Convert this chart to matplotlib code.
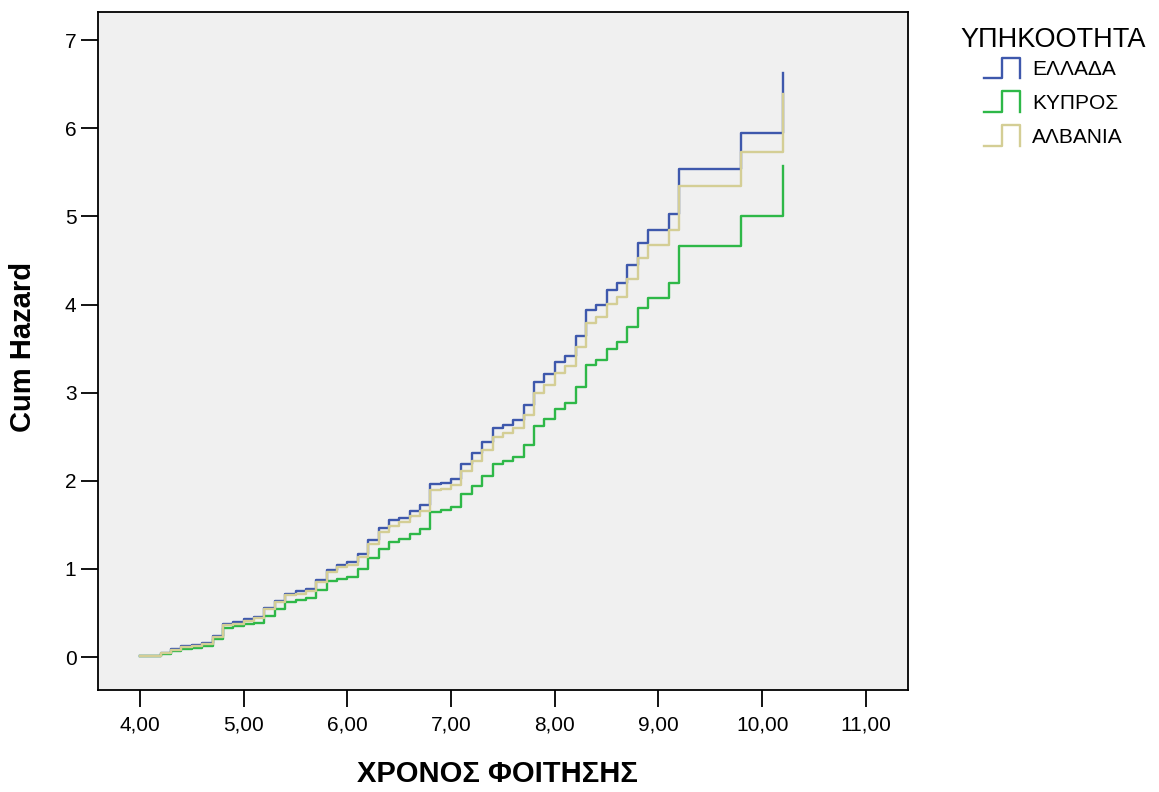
import matplotlib
matplotlib.use("Agg")
import matplotlib.pyplot as plt
from matplotlib.lines import Line2D
from matplotlib.legend_handler import HandlerBase

plt.rcParams['font.family'] = ['Liberation Sans', 'DejaVu Sans']

# ---- data ----
times = [4.0, 4.2, 4.3, 4.4, 4.5, 4.6, 4.7, 4.8, 4.9, 5.0,
         5.1, 5.2, 5.3, 5.4, 5.5, 5.6, 5.7, 5.8, 5.9, 6.0,
         6.1, 6.2, 6.3, 6.4, 6.5, 6.6, 6.7, 6.8, 6.9, 7.0,
         7.1, 7.2, 7.3, 7.4, 7.5, 7.6, 7.7, 7.8, 7.9, 8.0,
         8.1, 8.2, 8.3, 8.4, 8.5, 8.6, 8.7, 8.8, 8.9, 9.1,
         9.2, 9.8, 10.2]

hazard_greece = [0.01, 0.045, 0.09, 0.12, 0.135, 0.155, 0.235, 0.378, 0.40, 0.43,
                 0.46, 0.556, 0.635, 0.72, 0.745, 0.775, 0.873, 0.99, 1.05, 1.075,
                 1.17, 1.33, 1.46, 1.55, 1.58, 1.66, 1.72, 1.96, 1.98, 2.02,
                 2.19, 2.31, 2.44, 2.595, 2.63, 2.69, 2.855, 3.12, 3.21, 3.345,
                 3.42, 3.645, 3.94, 4.00, 4.16, 4.25, 4.45, 4.70, 4.85, 5.03,
                 5.54, 5.95, 6.63]

hazard_cyprus = [0.01, 0.04, 0.065, 0.094, 0.10, 0.12, 0.20, 0.33, 0.35, 0.37,
                 0.39, 0.47, 0.55, 0.62, 0.65, 0.67, 0.76, 0.86, 0.89, 0.91,
                 0.995, 1.12, 1.23, 1.30, 1.335, 1.395, 1.45, 1.65, 1.67, 1.705,
                 1.85, 1.94, 2.06, 2.19, 2.22, 2.27, 2.405, 2.62, 2.70, 2.82,
                 2.885, 3.07, 3.31, 3.37, 3.50, 3.57, 3.74, 3.96, 4.08, 4.24,
                 4.665, 5.01, 5.575]

hazard_albania = [0.01, 0.045, 0.085, 0.11, 0.125, 0.145, 0.225, 0.36, 0.38, 0.41,
                  0.44, 0.54, 0.62, 0.70, 0.72, 0.75, 0.85, 0.96, 1.025, 1.04,
                  1.13, 1.28, 1.415, 1.49, 1.53, 1.60, 1.66, 1.89, 1.91, 1.95,
                  2.11, 2.23, 2.345, 2.50, 2.54, 2.595, 2.75, 3.00, 3.09, 3.225,
                  3.30, 3.515, 3.79, 3.86, 4.005, 4.09, 4.285, 4.53, 4.68, 4.85,
                  5.34, 5.73, 6.395]

series_names = ['ΕΛΛΑΔΑ', 'ΚΥΠΡΟΣ', 'ΑΛΒΑΝΙΑ']
series_colors = ['#3E58AC', '#2EB848', '#D4CE95']

x_ticks = [4, 5, 6, 7, 8, 9, 10, 11]
x_tick_labels = ['4,00', '5,00', '6,00', '7,00', '8,00', '9,00', '10,00', '11,00']
y_ticks = [0, 1, 2, 3, 4, 5, 6, 7]
y_tick_labels = ['0', '1', '2', '3', '4', '5', '6', '7']

legend_title = 'ΥΠΗΚΟΟΤΗΤΑ'
x_label = 'ΧΡΟΝΟΣ ΦΟΙΤΗΣΗΣ'
y_label = 'Cum Hazard'

# ---- figure ----
W, H = 1159, 792
fig = plt.figure(figsize=(W / 100, H / 100), dpi=100)
left, right, bottom, top = 98, 908, 690, 12
ax = fig.add_axes([left / W, 1 - bottom / H, (right - left) / W, (bottom - top) / H])
ax.set_facecolor('#F0F0F0')

handles = []
for vals, name, col in zip([hazard_greece, hazard_cyprus, hazard_albania], series_names, series_colors):
    ln, = ax.step(times, vals, where='post', color=col, lw=1.7, label=name)
    handles.append(ln)

ax.set_xlim(3.595, 11.406)
ax.set_ylim(-0.374, 7.32)
ax.set_xticks(x_ticks)
ax.set_xticklabels(x_tick_labels)
ax.set_yticks(y_ticks)
ax.set_yticklabels(y_tick_labels)
ax.tick_params(axis='both', direction='out', length=12.5, width=1.3, labelsize=15,
               color='black', labelcolor='black')
ax.tick_params(axis='x', pad=6)
ax.tick_params(axis='y', pad=3)
for sp in ax.spines.values():
    sp.set_linewidth(1.3)
    sp.set_color('black')

ax.set_xlabel(x_label, fontsize=21, fontweight='bold')
ax.xaxis.set_label_coords(0.5 - 6 / 810, (690 - 774) / 678)
ax.xaxis.label.set_verticalalignment('center')
ax.set_ylabel(y_label, fontsize=21, fontweight='bold')
ax.yaxis.set_label_coords((23 - 98) / 810, (690 - 347) / 678)
ax.yaxis.label.set_verticalalignment('center')
ax.yaxis.label.set_horizontalalignment('center')


class PulseHandler(HandlerBase):
    def create_artists(self, legend, orig_handle, xdescent, ydescent,
                       width, height, fontsize, trans):
        x0, y0 = -xdescent, -ydescent
        xs = [x0, x0 + width / 2, x0 + width / 2, x0 + width, x0 + width]
        ys = [y0, y0, y0 + height, y0 + height, y0]
        ln = Line2D(xs, ys, color=orig_handle.get_color(), lw=1.7)
        ln.set_transform(trans)
        return [ln]


leg = fig.legend(handles=handles, labels=series_names, title=legend_title,
                 loc='upper left', bbox_to_anchor=(950 / W, 1 - 17 / H),
                 frameon=False, fontsize=15, title_fontsize=19.5,
                 handlelength=1.75, handleheight=1.15, handletextpad=0.55,
                 labelspacing=0.6, borderpad=0,
                 handler_map={Line2D: PulseHandler()})
leg._legend_box.sep = 3.0

fig.savefig('out.png', dpi=100)
